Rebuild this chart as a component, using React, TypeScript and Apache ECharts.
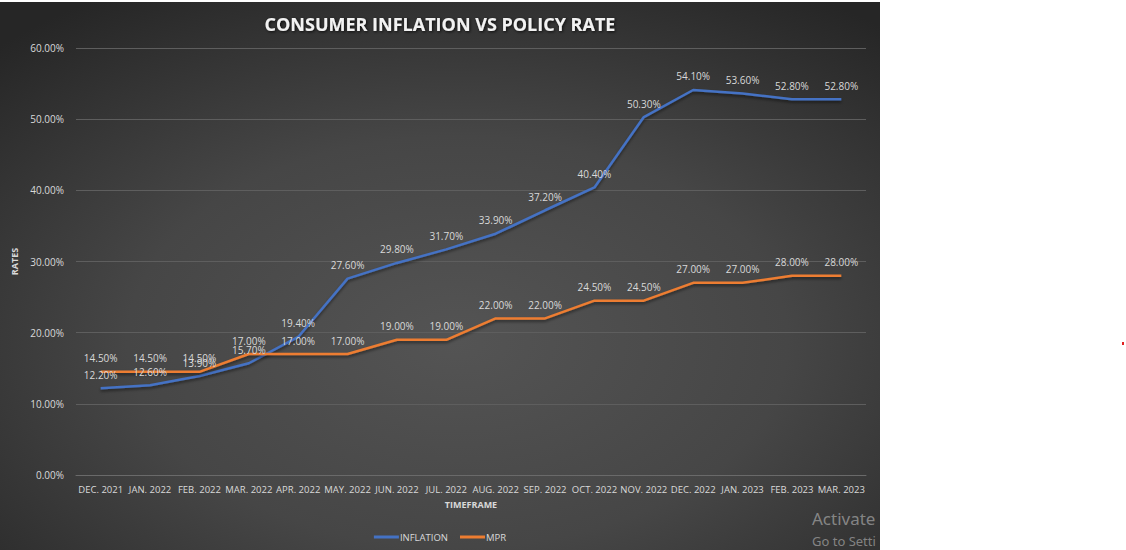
import React, { useEffect, useRef } from "react";
import * as echarts from "echarts";

const months = [
  "DEC. 2021", "JAN. 2022", "FEB. 2022", "MAR. 2022", "APR. 2022", "MAY. 2022",
  "JUN. 2022", "JUL. 2022", "AUG. 2022", "SEP. 2022", "OCT. 2022", "NOV. 2022",
  "DEC. 2022", "JAN. 2023", "FEB. 2023", "MAR. 2023",
];
const inflation = [12.2, 12.6, 13.9, 15.7, 19.4, 27.6, 29.8, 31.7, 33.9, 37.2, 40.4, 50.3, 54.1, 53.6, 52.8, 52.8];
const mpr = [14.5, 14.5, 14.5, 17.0, 17.0, 17.0, 19.0, 19.0, 22.0, 22.0, 24.5, 24.5, 27.0, 27.0, 28.0, 28.0];

const BLUE = "#4472c4";
const ORANGE = "#ed7d31";
const FONT = "'Open Sans', 'Noto Sans', sans-serif";
const pct = (v: number) => `${v.toFixed(2)}%`;

export default function App() {
  const ref = useRef<HTMLDivElement>(null);

  useEffect(() => {
    if (!ref.current) return;
    const chart = echarts.init(ref.current, undefined, { renderer: "svg" });
    const label = {
      show: true,
      position: "top" as const,
      distance: 8,
      color: "#d9d9d9",
      fontSize: 10,
      fontFamily: FONT,
      formatter: (p: any) => pct(p.value),
    };
    // invisible markers so the value labels still have an anchor
    const lineSeries = (name: string, data: number[], color: string) => ({
      name,
      type: "line",
      data,
      symbol: "circle",
      symbolSize: 1,
      showSymbol: true,
      itemStyle: { color: "transparent", borderWidth: 0 },
      lineStyle: { width: 2.5, color, shadowColor: "rgba(0,0,0,0.5)", shadowBlur: 3, shadowOffsetY: 2 },
      label,
    });
    chart.setOption({
      animation: false,
      backgroundColor: {
        type: "radial",
        x: 0.52,
        y: 0.62,
        r: 0.75,
        colorStops: [
          { offset: 0, color: "#545454" },
          { offset: 0.5, color: "#464646" },
          { offset: 1, color: "#262626" },
        ],
      },
      textStyle: { fontFamily: FONT },
      title: {
        text: "CONSUMER INFLATION VS POLICY RATE",
        left: "center",
        top: 8,
        textStyle: {
          color: "#f2f2f2",
          fontSize: 18,
          fontWeight: "bold",
          fontFamily: FONT,
          textShadowColor: "rgba(0,0,0,0.8)",
          textShadowBlur: 3,
          textShadowOffsetX: 1,
          textShadowOffsetY: 1,
        },
      },
      grid: { left: 76, right: 14, top: 46, bottom: 75, containLabel: false },
      legend: {
        bottom: 3,
        left: "center",
        icon: "rect",
        itemWidth: 25,
        itemHeight: 3,
        itemGap: 12,
        textStyle: { color: "#d9d9d9", fontSize: 9.5, fontFamily: FONT, padding: [0, 0, 0, -4] },
        data: [
          { name: "INFLATION", itemStyle: { color: BLUE } },
          { name: "MPR", itemStyle: { color: ORANGE } },
        ],
      },
      xAxis: {
        type: "category",
        data: months,
        boundaryGap: true,
        name: "TIMEFRAME",
        nameLocation: "middle",
        nameGap: 25,
        nameTextStyle: { color: "#d9d9d9", fontSize: 9, fontWeight: "bold", fontFamily: FONT },
        axisLine: { show: true, lineStyle: { color: "#6a6a6a", width: 1 } },
        axisTick: { show: false },
        axisLabel: { color: "#d9d9d9", fontSize: 9.5, margin: 9, interval: 0, fontFamily: FONT },
      },
      yAxis: {
        type: "value",
        min: 0,
        max: 60,
        interval: 10,
        name: "RATES",
        nameLocation: "middle",
        nameGap: 52,
        nameRotate: 90,
        nameTextStyle: { color: "#d9d9d9", fontSize: 9, fontWeight: "bold", fontFamily: FONT },
        axisLine: { show: false },
        axisTick: { show: false },
        axisLabel: { color: "#d9d9d9", fontSize: 10, margin: 12, formatter: (v: number) => pct(v), fontFamily: FONT },
        splitLine: { lineStyle: { color: "#5e5e5e", width: 1 } },
      },
      series: [
        lineSeries("INFLATION", inflation, BLUE),
        lineSeries("MPR", mpr, ORANGE),
      ],
      graphic: [
        {
          type: "text",
          left: 812,
          top: 508,
          style: { text: "Activate", fill: "rgba(200,200,200,0.55)", fontSize: 17, fontFamily: "'Noto Sans', sans-serif" },
        },
        {
          type: "text",
          left: 812,
          top: 532,
          style: { text: "Go to Setti", fill: "rgba(200,200,200,0.55)", fontSize: 13, fontFamily: "'Noto Sans', sans-serif" },
        },
      ],
    });
    return () => chart.dispose();
  }, []);

  return (
    <div style={{ position: "fixed", inset: 0, background: "#ffffff", overflow: "hidden" }}>
      <div ref={ref} style={{ position: "absolute", left: 0, top: 2, width: 880, height: 548, overflow: "hidden" }} />
      <div style={{ position: "absolute", left: 1122, top: 342, width: 2, height: 3, background: "#e02020" }} />
    </div>
  );
}
